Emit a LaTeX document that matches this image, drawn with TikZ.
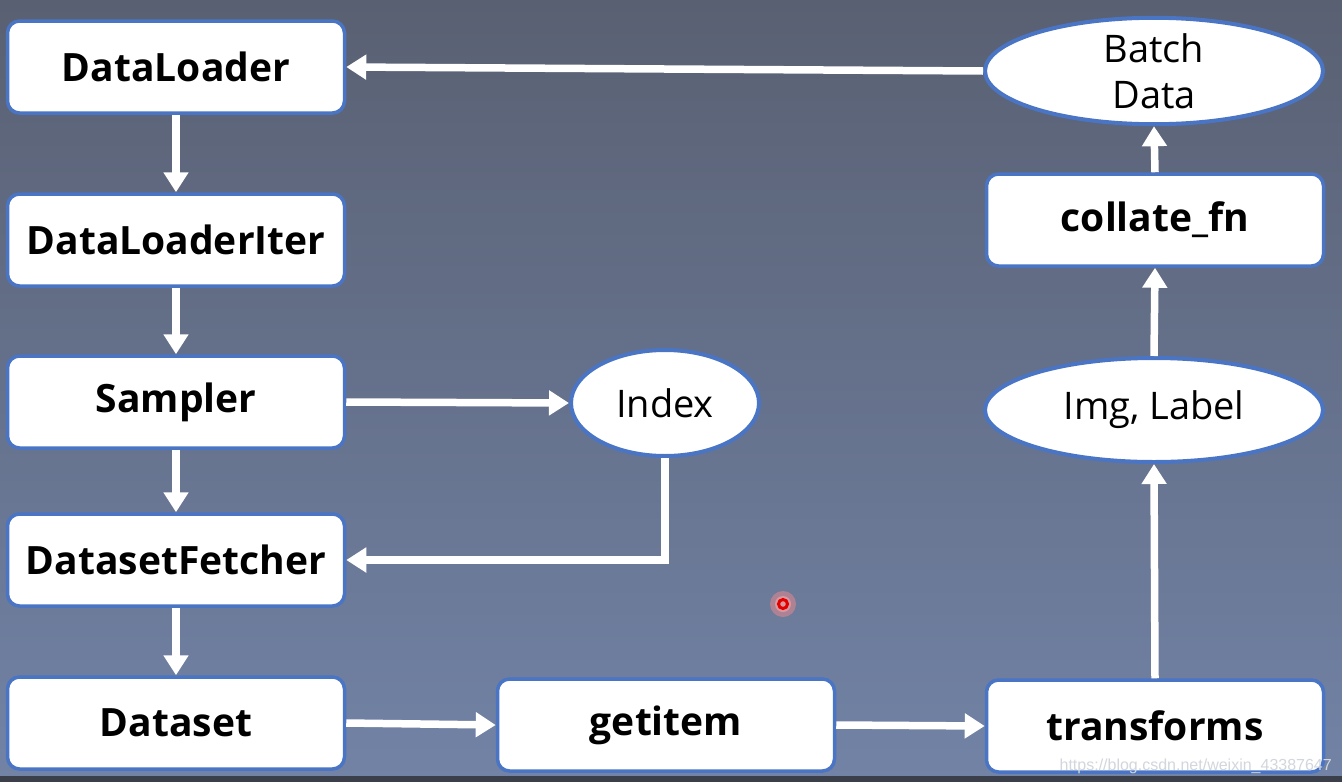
\documentclass[tikz,border=0pt]{standalone}
\usepackage{fontspec}
\setmainfont{Open Sans}
\newfontfamily\wmfont{Liberation Sans}
\usetikzlibrary{arrows.meta,shapes.geometric}
\definecolor{bgtop}{HTML}{596072}
\definecolor{bgbot}{HTML}{7283A6}
\definecolor{bord}{HTML}{4A74C4}
\definecolor{band}{HTML}{3B3F49}
\definecolor{wmcol}{HTML}{D2D6DD}
\tikzset{
  box/.style={draw=bord, line width=3.5pt, fill=white, rounded corners=12pt,
    minimum width=337pt, minimum height=92pt, inner sep=0pt,
    font=\fontsize{39}{44}\selectfont\bfseries, text=black},
  oval/.style={ellipse, draw=bord, line width=4pt, fill=white, inner sep=0pt,
    font=\fontsize{38}{46}\selectfont, text=black, align=center},
  arr/.style={draw=white, line width=7.5pt,
    -{Triangle[width=24pt,length=20pt]}}
}
\begin{document}
\begin{tikzpicture}[x=1pt,y=-1pt]
\shade[top color=bgtop, bottom color=bgbot] (0,0) rectangle (1342,782);
\fill[band] (0,776) rectangle (1342,782);
\useasboundingbox (0,0) rectangle (1342,782);

\node[box] (dl)  at (176,67)  {DataLoader};
\node[box] (dli) at (176,240) {DataLoaderIter};
\node[box] (sa)  at (176,402) {Sampler};
\node[box] (df)  at (176,560) {DatasetFetcher};
\node[box] (ds)  at (176,723) {Dataset};
\node[box] (gi)  at (666,725) {getitem};
\node[box] (tr)  at (1155,726) {transforms};
\node[box] (cf)  at (1155,220) {collate\_fn};
\node[oval, minimum width=338pt, minimum height=104pt] (il) at (1154,410) {Img, Label};
\node[oval, minimum width=338pt, minimum height=106pt] (bd) at (1154,71) {Batch\\Data};
\node[oval, minimum width=188pt, minimum height=106pt] (ix) at (665,403) {Index};

\draw[arr] (bd.west) -- (dl.east);
\draw[arr] (dl.south) -- (dli.north);
\draw[arr] (dli.south) -- (sa.north);
\draw[arr] (sa.east) -- (ix.west);
\draw[arr] (sa.south) -- (df.north);
\draw[arr] (ix.south) |- (df.east);
\draw[arr] (df.south) -- (ds.north);
\draw[arr] (ds.east) -- (gi.west);
\draw[arr] (gi.east) -- (tr.west);
\draw[arr] (tr.north) -- (il.south);
\draw[arr] (il.north) -- (cf.south);
\draw[arr] (cf.north) -- (bd.south);

\fill[red!45!white, opacity=0.45] (783,604) circle (13pt);
\fill[red!30!white, opacity=0.5] (783,604) circle (8pt);
\draw[red!90!black, line width=3pt] (783,604) circle (4.5pt);

\node[anchor=base east, inner sep=0pt, text=wmcol,
      font=\wmfont\fontsize{16}{20}\selectfont] (wm) at (1332,770)
      {https://blog.csdn.net/weixin\_43387647};
\end{tikzpicture}
\end{document}
